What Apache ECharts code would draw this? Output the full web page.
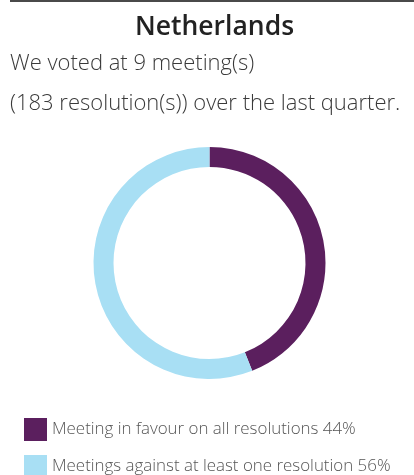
<!DOCTYPE html>
<html>
<head>
<meta charset="utf-8">
<script src="https://cdn.jsdelivr.net/npm/echarts@6/dist/echarts.min.js"></script>
<style>
html,body{margin:0;padding:0;background:#fff;}
#chart{width:414px;height:475px;}
</style>
</head>
<body>
<div id="chart"></div>
<script>
const country = "Netherlands";
const meetings = 9;
const resolutions = 183;
const categories = ["Meeting in favour on all resolutions", "Meetings against at least one resolution"];
const values = [44, 56];
const colors = ["#5b1f5e", "#a8dff4"];

const chart = echarts.init(document.getElementById('chart'), null, {renderer: 'canvas'});
const FONT = 'Open Sans';
const legendText = {fontFamily: FONT, fontSize: 16.9, fontWeight: 300, color: '#555'};
const fmt = function (name) {
  const i = categories.indexOf(name);
  return name + ' ' + values[i] + '%';
};
chart.setOption({
  animation: false,
  title: [
    {text: country, left: 130, top: 9,
     textStyle: {fontFamily: FONT, fontSize: 26.5, fontWeight: 600, color: '#222'}},
    {text: 'We voted at ' + meetings + ' meeting(s)', left: 5, top: 48,
     textStyle: {fontFamily: FONT, fontSize: 22, fontWeight: 300, color: '#3a3a3a'}},
    {text: '(' + resolutions + ' resolution(s)) over the last quarter.', left: 5, top: 88,
     textStyle: {fontFamily: FONT, fontSize: 22, fontWeight: 300, color: '#3a3a3a'}}
  ],
  graphic: [
    {type: 'rect', shape: {x: 10, y: 0, width: 404, height: 2}, style: {fill: '#4a4a4a'}}
  ],
  legend: [
    {orient: 'vertical', left: 24, top: 418, padding: 0,
     itemWidth: 23, itemHeight: 23, icon: 'rect', selectedMode: false,
     data: [categories[0]], textStyle: legendText, formatter: fmt},
    {orient: 'vertical', left: 24, top: 455, padding: 0,
     itemWidth: 23, itemHeight: 23, icon: 'rect', selectedMode: false,
     data: [categories[1]], textStyle: legendText, formatter: fmt}
  ],
  series: [{
    type: 'pie',
    center: [209.5, 263],
    radius: [96, 116],
    startAngle: 90,
    clockwise: true,
    label: {show: false},
    labelLine: {show: false},
    emphasis: {disabled: true},
    silent: true,
    data: categories.map((c, i) => ({name: c, value: values[i], itemStyle: {color: colors[i]}}))
  }]
});
</script>
</body>
</html>
